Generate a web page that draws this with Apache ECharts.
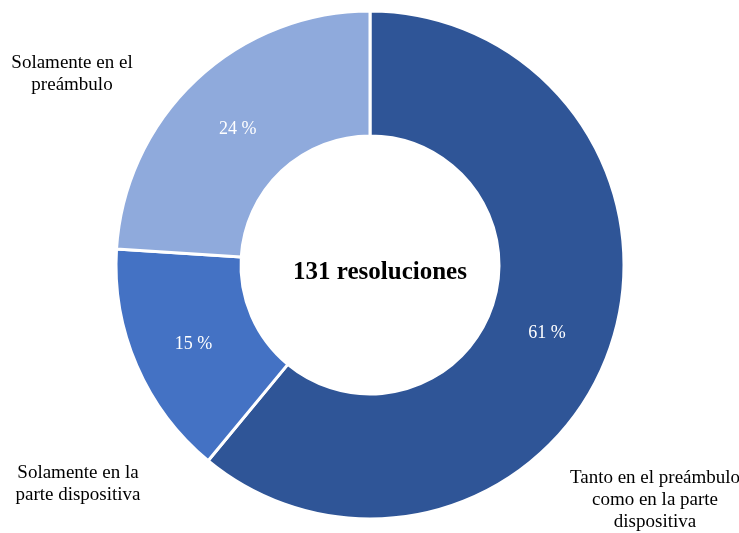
<!DOCTYPE html>
<html>
<head>
<meta charset="utf-8">
<script src="https://cdn.jsdelivr.net/npm/echarts@6/dist/echarts.min.js"></script>
<style>
  html, body { margin: 0; padding: 0; background: #fff; }
  #main { width: 739px; height: 533px; }
</style>
</head>
<body>
<div id="main"></div>
<script>
var categories = [
  'Tanto en el preámbulo\ncomo en la parte\ndispositiva',
  'Solamente en la\nparte dispositiva',
  'Solamente en el\npreámbulo'
];
var percents = [61, 15, 24];
var total = '131 resoluciones';

var colors = ['#2F5597', '#4472C4', '#8FAADC'];
// where the category names sit (centre of the text block)
var namePos = [[655, 500], [78, 484], [72, 74]];
// small nudges for the percent labels
var pctNudge = [[-6, 2], [2, 2], [1, 6]];

var chart = echarts.init(document.getElementById('main'));
var font = '"Liberation Serif", "Times New Roman", serif';

var data = categories.map(function (c, i) {
  return { name: c, value: percents[i] };
});

var option = {
  animation: false,
  color: colors,
  graphic: [{
    type: 'text',
    x: 380,
    y: 273,
    style: {
      text: total,
      fontFamily: font,
      fontSize: 25,
      fontWeight: 'bold',
      fill: '#000',
      textAlign: 'center',
      textVerticalAlign: 'middle'
    }
  }],
  series: [{
    type: 'pie',
    center: [370, 265],
    radius: [129, 254],
    startAngle: 90,
    clockwise: true,
    silent: true,
    itemStyle: { borderColor: '#fff', borderWidth: 3 },
    label: {
      position: 'inside',
      formatter: '{c} %',
      color: '#fff',
      fontFamily: font,
      fontSize: 18
    },
    labelLine: { show: false },
    labelLayout: function (p) {
      var n = pctNudge[p.dataIndex];
      return { dx: n[0], dy: n[1] };
    },
    data: data
  }, {
    type: 'pie',
    center: [370, 265],
    radius: [129, 254],
    startAngle: 90,
    silent: true,
    itemStyle: { color: 'rgba(0,0,0,0)' },
    label: {
      position: 'outside',
      formatter: '{b}',
      color: '#000',
      fontFamily: font,
      fontSize: 19,
      lineHeight: 22,
      align: 'center',
      overflow: 'none',
      width: 300
    },
    labelLine: { show: false },
    labelLayout: function (p) {
      var pos = namePos[p.dataIndex];
      return { x: pos[0], y: pos[1], align: 'center', verticalAlign: 'middle' };
    },
    data: data
  }]
};
chart.setOption(option);
</script>
</body>
</html>
